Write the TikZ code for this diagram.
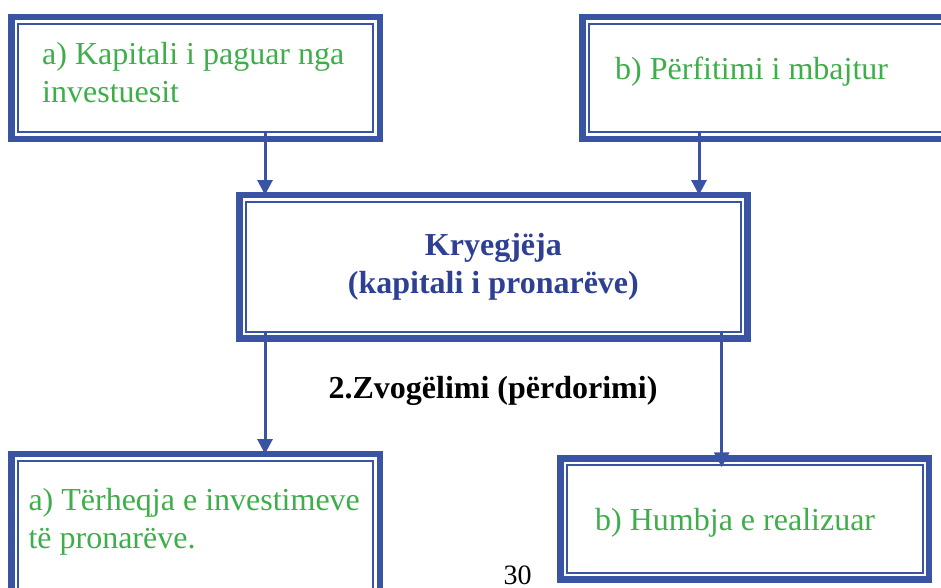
\documentclass[tikz,border=0pt]{standalone}
\usepackage{fontspec}
\setmainfont{Liberation Serif}
\usetikzlibrary{arrows.meta,calc}
\definecolor{frameblue}{RGB}{58,84,164}
\definecolor{textgreen}{RGB}{61,174,74}
\definecolor{titleblue}{RGB}{46,64,148}
\begin{document}
\begin{tikzpicture}[x=1pt,y=-1pt,
  boxframe/.style={draw=frameblue, line width=6.5pt, inner sep=0pt, outer sep=0pt, anchor=north west},
  rim/.style={draw=frameblue, line width=2pt},
  greentext/.style={text=textgreen, font=\fontsize{32}{38}\selectfont, inner sep=0pt, anchor=base west, align=left},
  boldtext/.style={font=\fontsize{32}{37.5}\selectfont\bfseries, inner sep=0pt},
  flow/.style={draw=frameblue, line width=3pt, -{Triangle[length=15pt,width=15pt]}}]
\useasboundingbox (0,0) rectangle (941,588);
\clip (0,0) rectangle (941,588);

% framed boxes
\node[boxframe, minimum width=368.5pt, minimum height=121.75pt] (a) at (11.25,17.25) {};
\node[boxframe, minimum width=374pt, minimum height=121.75pt] (b) at (582.5,17.25) {};
\node[boxframe, minimum width=508.2pt, minimum height=143.5pt, text=titleblue,
      font=\fontsize{32}{37.5}\selectfont\bfseries, align=center] (m) at (239.25,195)
      {Kryegjëja\\(kapitali i pronarëve)};
\node[boxframe, minimum width=368.5pt, minimum height=150pt] (c) at (11.25,454) {};
\node[boxframe, minimum width=368.8pt, minimum height=121.2pt] (d) at (560.25,458.25) {};

% inner thin border of every box
\foreach \n in {a,b,m,c,d}
  \draw[rim] ([shift={(6.5,6.5)}]\n.north west) rectangle ([shift={(-6.5,-6.5)}]\n.south east);

% box texts (base anchor of a two-line node sits on its last line)
\node[greentext] (ta) at (42,103) {a) Kapitali i paguar nga\\investuesit};
\node[greentext] (tb) at (615,80) {b) Përfitimi i mbajtur};
\node[greentext] (tc) at (28.3,548) {a) Tërheqja e investimeve\\të pronarëve.};
\node[greentext] (td) at (595,530) {b) Humbja e realizuar};

% caption between the levels and page number
\node[boldtext, anchor=base] (tz) at (493,398) {2.Zvogëlimi (përdorimi)};
\node[font=\fontsize{28}{30}\selectfont, inner sep=0pt, anchor=base] (pg) at (517.5,584) {30};

% connectors
\coordinate (a1) at ([xshift=69.5pt,yshift=8pt]a.south);
\coordinate (b1) at ([xshift=-70.5pt,yshift=8pt]b.south);
\coordinate (m1) at ([xshift=-228.35pt,yshift=8pt]m.south);
\coordinate (m2) at ([xshift=228.35pt,yshift=8pt]m.south);
\draw[flow] (a1) -- (a1 |- m.north);
\draw[flow] (b1) -- (b1 |- m.north);
\draw[flow] (m1) -- (m1 |- c.north);
\draw[flow, shorten >=-9pt] (m2) -- (m2 |- d.north);
\end{tikzpicture}
\end{document}
